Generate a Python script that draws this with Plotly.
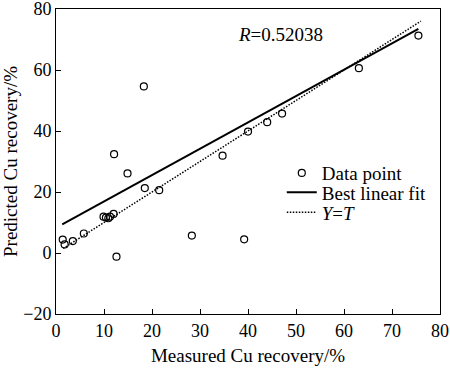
import plotly.graph_objects as go

measured = [1.4, 1.8, 3.5, 5.8, 9.9, 10.4, 10.9, 11.25, 12.0, 12.6, 12.1, 14.9, 18.3, 18.5,
            21.5, 28.3, 34.7, 39.2, 40.0, 44.0, 47.1, 63.1, 75.5]
predicted = [4.4, 2.8, 3.9, 6.4, 11.9, 11.6, 11.4, 11.9, 12.8, -1.2, 32.4, 26.1, 54.6, 21.3,
             20.6, 5.7, 31.9, 4.5, 39.8, 42.9, 45.7, 60.6, 71.3]
fit_slope = 0.8644
fit_intercept = 8.24
fit_range = [1.3, 75.5]
yt_range = [1.5, 76.0]
r_value = "0.52038"

x_ticks = [0, 10, 20, 30, 40, 50, 60, 70, 80]
y_ticks = [-20, 0, 20, 40, 60, 80]

FONT = "Liberation Serif, Times New Roman, serif"
FS = 19

fig = go.Figure()
fig.add_trace(go.Scatter(
    x=measured, y=predicted, mode="markers", name="Data point", legend="legend",
    marker=dict(symbol="circle-open", size=7, color="black", line=dict(width=1.2)),
))
fig.add_trace(go.Scatter(
    x=fit_range, y=[fit_slope * v + fit_intercept for v in fit_range],
    mode="lines", name="Best linear fit", legend="legend2",
    line=dict(color="black", width=2),
))
fig.add_trace(go.Scatter(
    x=yt_range, y=yt_range, mode="lines", name="<i>Y</i>=<i>T</i>", legend="legend3",
    line=dict(color="black", width=1.5, dash="1.5px,1.5px"),
))

fig.add_annotation(
    x=37.5, y=71.5, xref="x", yref="y", xanchor="left", yanchor="middle",
    text="<i>R</i>=" + r_value, showarrow=False,
    font=dict(family=FONT, size=FS, color="black"),
)

axis_common = dict(
    showgrid=False, zeroline=False, showline=True, linecolor="black", linewidth=1,
    mirror=True, ticks="inside", ticklen=5, tickcolor="black",
    ticklabeloverflow="allow", automargin=False,
    tickfont=dict(family=FONT, size=18, color="black"),
)
fig.update_xaxes(
    range=[0, 80], tickvals=x_ticks, title=dict(text="Measured Cu recovery/%",
    font=dict(family=FONT, size=FS, color="black"), standoff=9), **axis_common,
)
fig.update_yaxes(
    range=[-20, 80], tickvals=y_ticks, title=dict(text="Predicted Cu recovery/%",
    font=dict(family=FONT, size=FS, color="black"), standoff=0), **axis_common,
)

leg_common = dict(
    x=0.588, xanchor="left", yanchor="middle",
    bgcolor="rgba(0,0,0,0)", font=dict(family=FONT, size=FS, color="black"),
    itemwidth=30, tracegroupgap=0,
)
fig.update_layout(
    width=450, height=370,
    margin=dict(l=56, r=10, t=9, b=56, autoexpand=False),
    plot_bgcolor="white", paper_bgcolor="white",
    showlegend=True,
    legend=dict(y=0.462, **leg_common),
    legend2=dict(y=0.399, **leg_common),
    legend3=dict(y=0.333, **leg_common),
    font=dict(family=FONT, color="black"),
)

fig.write_html(
    "out.html",
    config={"displayModeBar": False},
    post_script="document.body.style.margin='0';document.body.style.overflow='hidden';",
)
